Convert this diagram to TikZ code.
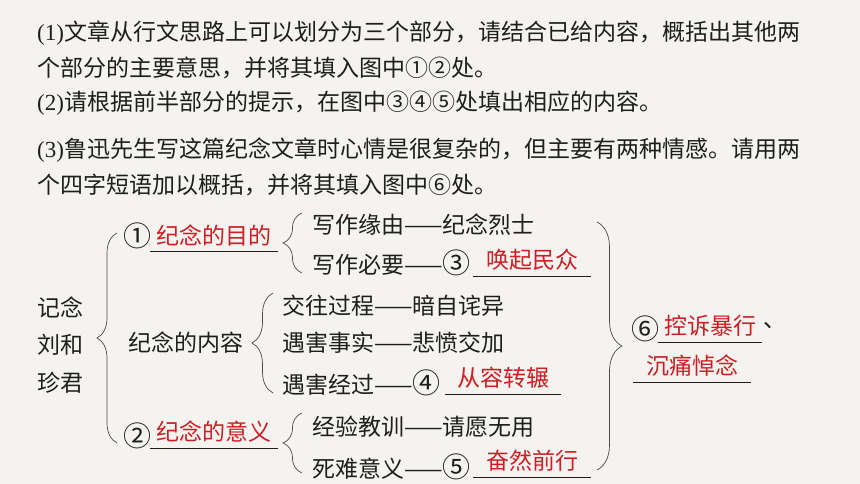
\documentclass[tikz,border=0pt]{standalone}
\usepackage{fontspec}
\setmainfont{Liberation Serif}
\newfontfamily\cjk{Noto Sans CJK SC}
\usetikzlibrary{decorations.pathreplacing}
\definecolor{paper}{RGB}{244,243,239}
\definecolor{ink}{RGB}{30,30,30}
\definecolor{ansred}{RGB}{204,30,36}
\newcommand\quan[1]{{\fontsize{28}{28}\selectfont#1}}

\begin{document}
\begin{tikzpicture}[x=1pt,y=-1pt,
	every node/.style={font=\cjk\fontsize{23}{28}\selectfont, text=ink, inner sep=0pt},
	line/.style={anchor=west},
	ans/.style={text=ansred, minimum width=#1, minimum height=32pt},
	ul/.style={draw=ink, line width=0.8pt},
	br/.style={draw=ink!80, line width=0.7pt, decorate, decoration={brace, amplitude=#1}}]
	\fill[paper] (0,0) rectangle (860,484);
	\node[line] (q1a) at (37,33) {\rmfamily(1)\cjk 文章从行文思路上可以划分为三个部分，请结合已给内容，概括出其他两};
	\node[line] (q1b) at (37,68) {个部分的主要意思，并将其填入图中①②处。};
	\node[line] (q2) at (37,103) {\rmfamily(2)\cjk 请根据前半部分的提示，在图中③④⑤处填出相应的内容。};
	\node[line] (q3a) at (37,150) {\rmfamily(3)\cjk 鲁迅先生写这篇纪念文章时心情是很复杂的，但主要有两种情感。请用两};
	\node[line] (q3b) at (37,185) {个四字短语加以概括，并将其填入图中⑥处。};

	\node[align=center, font=\cjk\fontsize{23}{37.5}\selectfont] (root) at (60,345) {记念\\刘和\\珍君};
	\draw[br=20] (117,443) -- (117,233);

	\node (c1) at (137,236) {\quan{①}};
	\node[ans=128] (a1) at (214,235) {纪念的目的};
	\draw[ul] (a1.south west) -- (a1.south east);
	\draw[br=19] (302,273) -- (302,213);
	\node[line] (w1) at (312,225) {写作缘由——纪念烈士};
	\node[line] (w2) at (312,263) {写作必要——\quan{③}};
	\node[ans=117] (a3) at (532,260) {唤起民众};
	\draw[ul] (a3.south west) -- (a3.south east);

	\node[line] (content) at (128,343) {纪念的内容};
	\draw[br=21] (273,393) -- (273,293);
	\node[line] (m1) at (282,306) {交往过程——暗自诧异};
	\node[line] (m2) at (282,343) {遇害事实——悲愤交加};
	\node[line] (m3) at (282,383) {遇害经过——\quan{④}};
	\node[ans=116] (a4) at (503,378) {从容转辗};
	\draw[ul] (a4.south west) -- (a4.south east);

	\node (c2) at (137,436) {\quan{②}};
	\node[ans=128] (a2) at (214,432) {纪念的意义};
	\draw[ul] (a2.south west) -- (a2.south east);
	\draw[br=19] (302,473) -- (302,413);
	\node[line] (s1) at (312,427) {经验教训——请愿无用};
	\node[line] (s2) at (312,467) {死难意义——\quan{⑤}};
	\node[ans=117] (a5) at (532,461) {奋然前行};
	\draw[ul] (a5.south west) -- (a5.south east);

	\draw[br=25] (597,222) -- (597,470);
	\node (c6) at (645,329) {\quan{⑥}};
	\node[ans=104] (a6) at (710,326) {控诉暴行};
	\draw[ul] (a6.south west) -- (a6.south east);
	\node[line] (dun) at (763,326) {、};
	\node[ans=117] (a7) at (692,366) {沉痛悼念};
	\draw[ul] (a7.south west) -- (a7.south east);
\end{tikzpicture}
\end{document}
